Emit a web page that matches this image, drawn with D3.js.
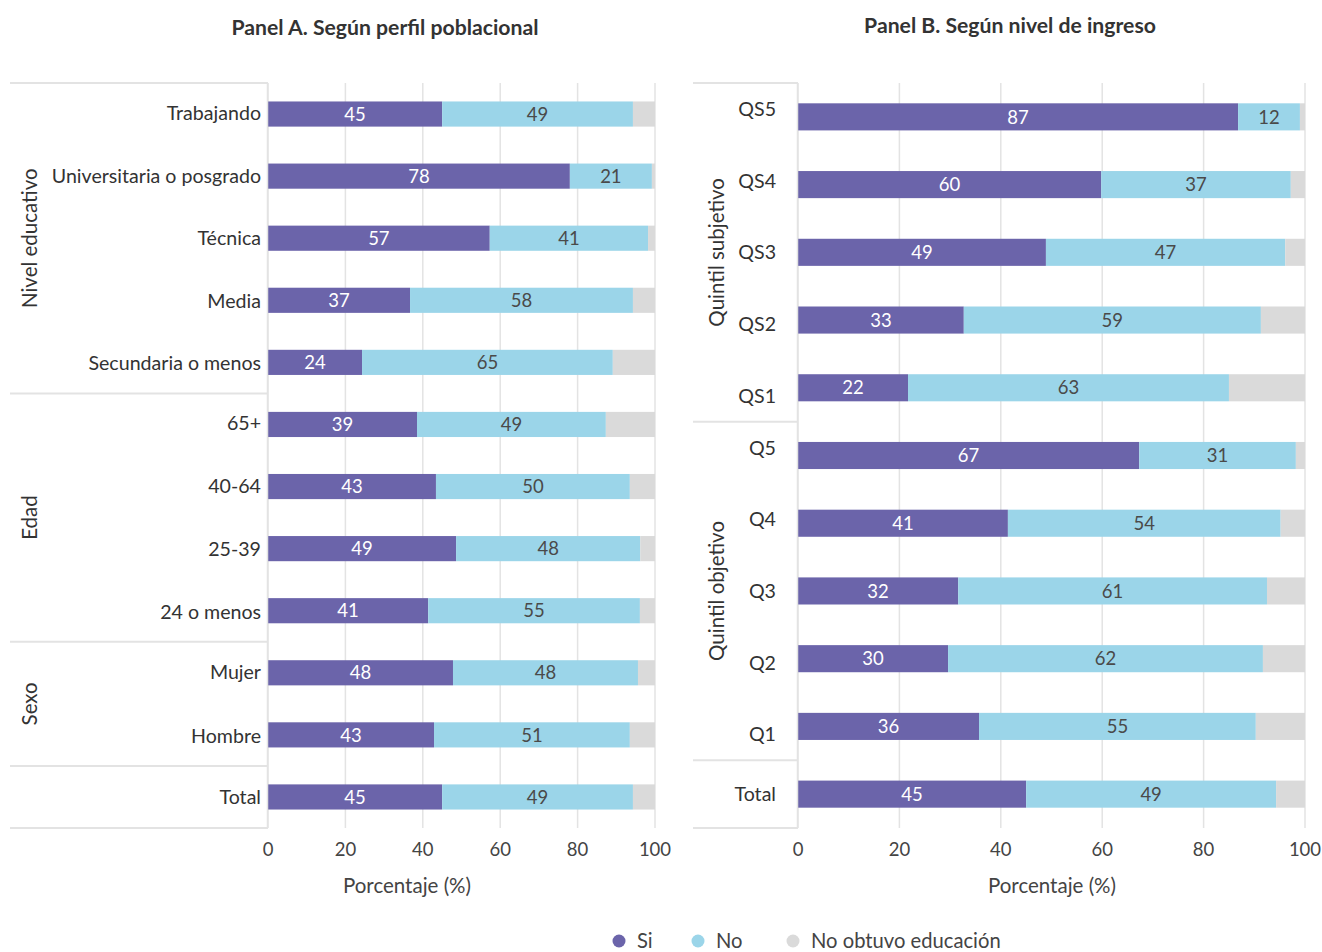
<!DOCTYPE html>
<html><head><meta charset="utf-8">
<script src="https://cdn.jsdelivr.net/npm/d3@7"></script>
<style>
body{margin:0;background:#fff;}
svg{font-family:Lato,"Noto Sans",sans-serif;}
</style></head>
<body><svg id="c" width="1322" height="952"></svg>
<script>
// ---------- DATA ----------
const seriesNames = ["Si", "No", "No obtuvo educación"];
const seriesColors = ["#6b64aa", "#9bd5e9", "#dadada"];

// Panel A
const catsA = ["Trabajando","Universitaria o posgrado","Técnica","Media","Secundaria o menos","65+","40-64","25-39","24 o menos","Mujer","Hombre","Total"];
const groupA = ["Nivel educativo","Nivel educativo","Nivel educativo","Nivel educativo","Nivel educativo","Edad","Edad","Edad","Edad","Sexo","Sexo",""];
const siA    = [45.0, 78.0, 57.3, 36.7, 24.3, 38.5, 43.4, 48.6, 41.4, 47.8, 42.9, 45.0];
const noA    = [49.3, 21.2, 40.9, 57.6, 64.8, 48.8, 50.1, 47.6, 54.7, 47.8, 50.6, 49.3];
const nadaA  = [5.7, 0.8, 1.8, 5.7, 10.9, 12.7, 6.5, 3.8, 3.9, 4.4, 6.5, 5.7];

// Panel B
const catsB = ["QS5","QS4","QS3","QS2","QS1","Q5","Q4","Q3","Q2","Q1","Total"];
const groupB = ["Quintil subjetivo","Quintil subjetivo","Quintil subjetivo","Quintil subjetivo","Quintil subjetivo","Quintil objetivo","Quintil objetivo","Quintil objetivo","Quintil objetivo","Quintil objetivo",""];
const siB    = [86.8, 59.8, 48.9, 32.7, 21.7, 67.3, 41.4, 31.6, 29.6, 35.7, 45.0];
const noB    = [12.2, 37.4, 47.2, 58.6, 63.3, 30.9, 53.8, 60.9, 62.1, 54.6, 49.3];
const nadaB  = [1.0, 2.8, 3.9, 8.7, 15.0, 1.8, 4.8, 7.5, 8.3, 9.7, 5.7];

const xTicks = [0, 20, 40, 60, 80, 100];
const titleA = "Panel A. Según perfil poblacional";
const titleB = "Panel B. Según nivel de ingreso";
const xTitle = "Porcentaje (%)";

// ---------- DRAW ----------
const svg = d3.select("#c");
const lineCol = "#e3e3e3";

function panel(cfg){
  const {cats, groups, si, no, nada, tableX0, plotX0, plotX1, top, bottom, bandPad, groupLabelX, catLabelX, labelMargin, title, titleX, titleY, xTitleX} = cfg;
  const g = svg.append("g");
  const x = d3.scaleLinear().domain([0,100]).range([plotX0, plotX1]);
  const y = d3.scaleBand().domain(cats).range([top, bottom]).paddingInner(bandPad).paddingOuter(bandPad/2);
  const step = y.step();

  // grid
  g.append("g").selectAll("line").data(xTicks).join("line")
    .attr("x1", d=>x(d)).attr("x2", d=>x(d)).attr("y1", top).attr("y2", bottom)
    .attr("stroke", lineCol).attr("stroke-width", 1.5);

  // stacks
  const rows = cats.map((c,i)=>({cat:c, Si:si[i], No:no[i], Nada:nada[i]}));
  const stack = d3.stack().keys(["Si","No","Nada"])(rows);
  stack.forEach((layer, k)=>{
    const lg = g.append("g");
    lg.selectAll("rect").data(layer).join("rect")
      .attr("x", d=>x(d[0])).attr("width", d=>Math.max(0, x(d[1])-x(d[0])))
      .attr("y", d=>y(d.data.cat)).attr("height", y.bandwidth())
      .attr("fill", seriesColors[k]);
    if(k<2){
      lg.selectAll("text").data(layer).join("text")
        .attr("x", d=>(x(d[0])+x(d[1]))/2)
        .attr("y", d=>y(d.data.cat)+y.bandwidth()/2)
        .attr("dy","0.36em").attr("text-anchor","middle")
        .attr("font-size", 18.5)
        .attr("fill", k===0 ? "#ffffff" : "#4a4a4a")
        .text(d=>Math.round(d[1]-d[0]));
    }
  });

  // table: group blocks
  const blocks = [];
  groups.forEach((gr,i)=>{
    if(!blocks.length || blocks[blocks.length-1].name!==gr) blocks.push({name:gr, start:i, end:i});
    else blocks[blocks.length-1].end = i;
  });
  const tg = g.append("g");
  const seps = [top].concat(blocks.map(b=>top + (b.end+1)*step));
  tg.selectAll("line.h").data(seps).join("line").attr("class","h")
    .attr("x1", tableX0).attr("x2", plotX0).attr("y1", d=>d).attr("y2", d=>d)
    .attr("stroke", lineCol).attr("stroke-width", 2);
  tg.append("line").attr("x1", plotX0-0.5).attr("x2", plotX0-0.5).attr("y1", top).attr("y2", bottom)
    .attr("stroke", lineCol).attr("stroke-width", 1.5);

  blocks.forEach(b=>{
    const y0 = top + b.start*step, y1 = top + (b.end+1)*step;
    const n = b.end - b.start + 1;
    const m = labelMargin;
    if(b.name){
      tg.append("text").attr("transform", `translate(${groupLabelX},${(y0+y1)/2}) rotate(-90)`)
        .attr("text-anchor","middle").attr("dy","0.36em").attr("font-size",20.5).attr("fill","#333")
        .text(b.name);
    }
    for(let i=0;i<n;i++){
      const ly = n===1 ? (y0+y1)/2 : y0 + m + i*((y1-y0-2*m)/(n-1));
      tg.append("text").attr("x", catLabelX).attr("y", ly).attr("dy","0.36em")
        .attr("text-anchor","end").attr("font-size",19.6).attr("fill","#333")
        .text(cats[b.start+i]);
    }
  });

  // x axis labels
  g.append("g").selectAll("text").data(xTicks).join("text")
    .attr("x", d=>x(d)).attr("y", 849).attr("dy","0.36em").attr("text-anchor","middle")
    .attr("font-size",18.5).attr("fill","#444").text(d=>d);
  g.append("text").attr("x", xTitleX).attr("y", 886).attr("dy","0.36em").attr("text-anchor","middle")
    .attr("font-size",20.5).attr("fill","#444").text(xTitle);

  g.append("text").attr("x", titleX).attr("y", titleY).attr("dy","0.36em").attr("text-anchor","middle")
    .attr("font-size",21.2).attr("font-weight","bold").attr("fill","#333").text(title);
}

panel({cats:catsA, groups:groupA, si:siA, no:noA, nada:nadaA,
  tableX0:10, plotX0:268, plotX1:655, top:83, bottom:828, bandPad:0.595,
  groupLabelX:30, catLabelX:261, labelMargin:30, title:titleA, titleX:385, titleY:27, xTitleX:407});
panel({cats:catsB, groups:groupB, si:siB, no:noB, nada:nadaB,
  tableX0:693, plotX0:798, plotX1:1305, top:83, bottom:828, bandPad:0.6,
  groupLabelX:717, catLabelX:776, labelMargin:26, title:titleB, titleX:1010, titleY:25, xTitleX:1052});

// legend
const legX = [619, 698, 793];
const leg = svg.append("g");
seriesNames.forEach((s,i)=>{
  leg.append("circle").attr("cx", legX[i]).attr("cy", 941).attr("r", 6.5).attr("fill", seriesColors[i]);
  leg.append("text").attr("x", legX[i]+18).attr("y", 941).attr("dy","0.36em")
    .attr("font-size",20.2).attr("fill","#444").text(s);
});
</script></body></html>
